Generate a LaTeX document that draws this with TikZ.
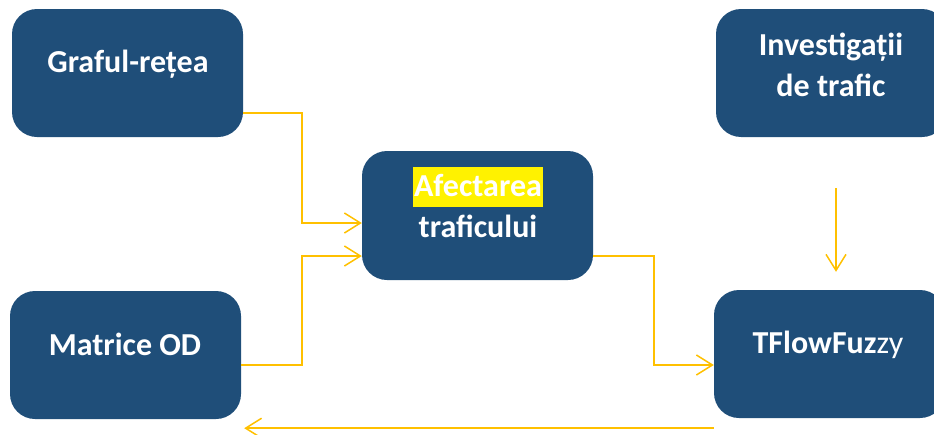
\documentclass[tikz,border=0pt]{standalone}
\usepackage{fontspec}
\setmainfont{Carlito}
\usetikzlibrary{arrows.meta}

\definecolor{boxblue}{RGB}{31,78,121}
\definecolor{linkgold}{RGB}{255,192,0}
\newcommand{\hlword}[1]{{\setlength{\fboxsep}{0pt}\colorbox{yellow}{\rule[-11pt]{0pt}{40pt}\hspace{1pt}#1\hspace{1pt}}}}

\begin{document}
\begin{tikzpicture}[
    x=1pt, y=-1pt,
    block/.style={rectangle, rounded corners=25pt, fill=boxblue, minimum width=231pt, minimum height=128pt, inner sep=0pt},
    txt/.style={text=white, font=\bfseries\fontsize{32}{41}\selectfont, align=center, inner sep=0pt, anchor=base},
    link/.style={draw=linkgold, line width=1.5pt, -{Straight Barb[length=16pt,width=20pt,line width=1.5pt]}}
  ]
  \path[use as bounding box, clip] (0,0) rectangle (934,434);

  % Blocks
  \node[block] (graf)   at (127.5,73)  {};
  \node[block] (matr)   at (125.5,355) {};
  \node[block, minimum height=129pt] (afect) at (477.5,215.5) {};
  \node[block] (invest) at (831.5,73)  {};
  \node[block] (tflow)  at (829.5,354) {};

  % Texts (base = last line)
  \node[txt] (grafT)   at (128,72)  {Graful-rețea};
  \node[txt] (matrT)   at (125,355) {Matrice OD};
  \node[txt] (afectT)  at (478,237) {\hlword{Afectarea}\\traficului};
  \node[txt] (investT) at (831,96)  {Investigații\\de trafic};
  \node[txt] (tflowT)  at (828,353) {TFlowFuz{\mdseries zy}};

  % Inputs to Afectarea traficului
  \draw[link] ([yshift=-40pt]graf.east) -- ++(59,0) |- ([yshift=-7.5pt]afect.west);
  \draw[link] ([yshift=-10pt]matr.east) -- ++(61,0) |- ([yshift=-40.5pt]afect.west);
  % To TFlowFuzzy
  \draw[link] ([yshift=-40.5pt]afect.east) -- ++(61,0) |- ([yshift=-11pt]tflow.west);
  \draw[link] ([xshift=4.5pt,yshift=-51pt]invest.south) -- ([xshift=6.5pt,yshift=18pt]tflow.north);
  % Feedback
  \draw[link] ([yshift=-10pt]tflow.south west) -- ([xshift=3pt,yshift=-9pt]matr.south east);
\end{tikzpicture}
\end{document}
